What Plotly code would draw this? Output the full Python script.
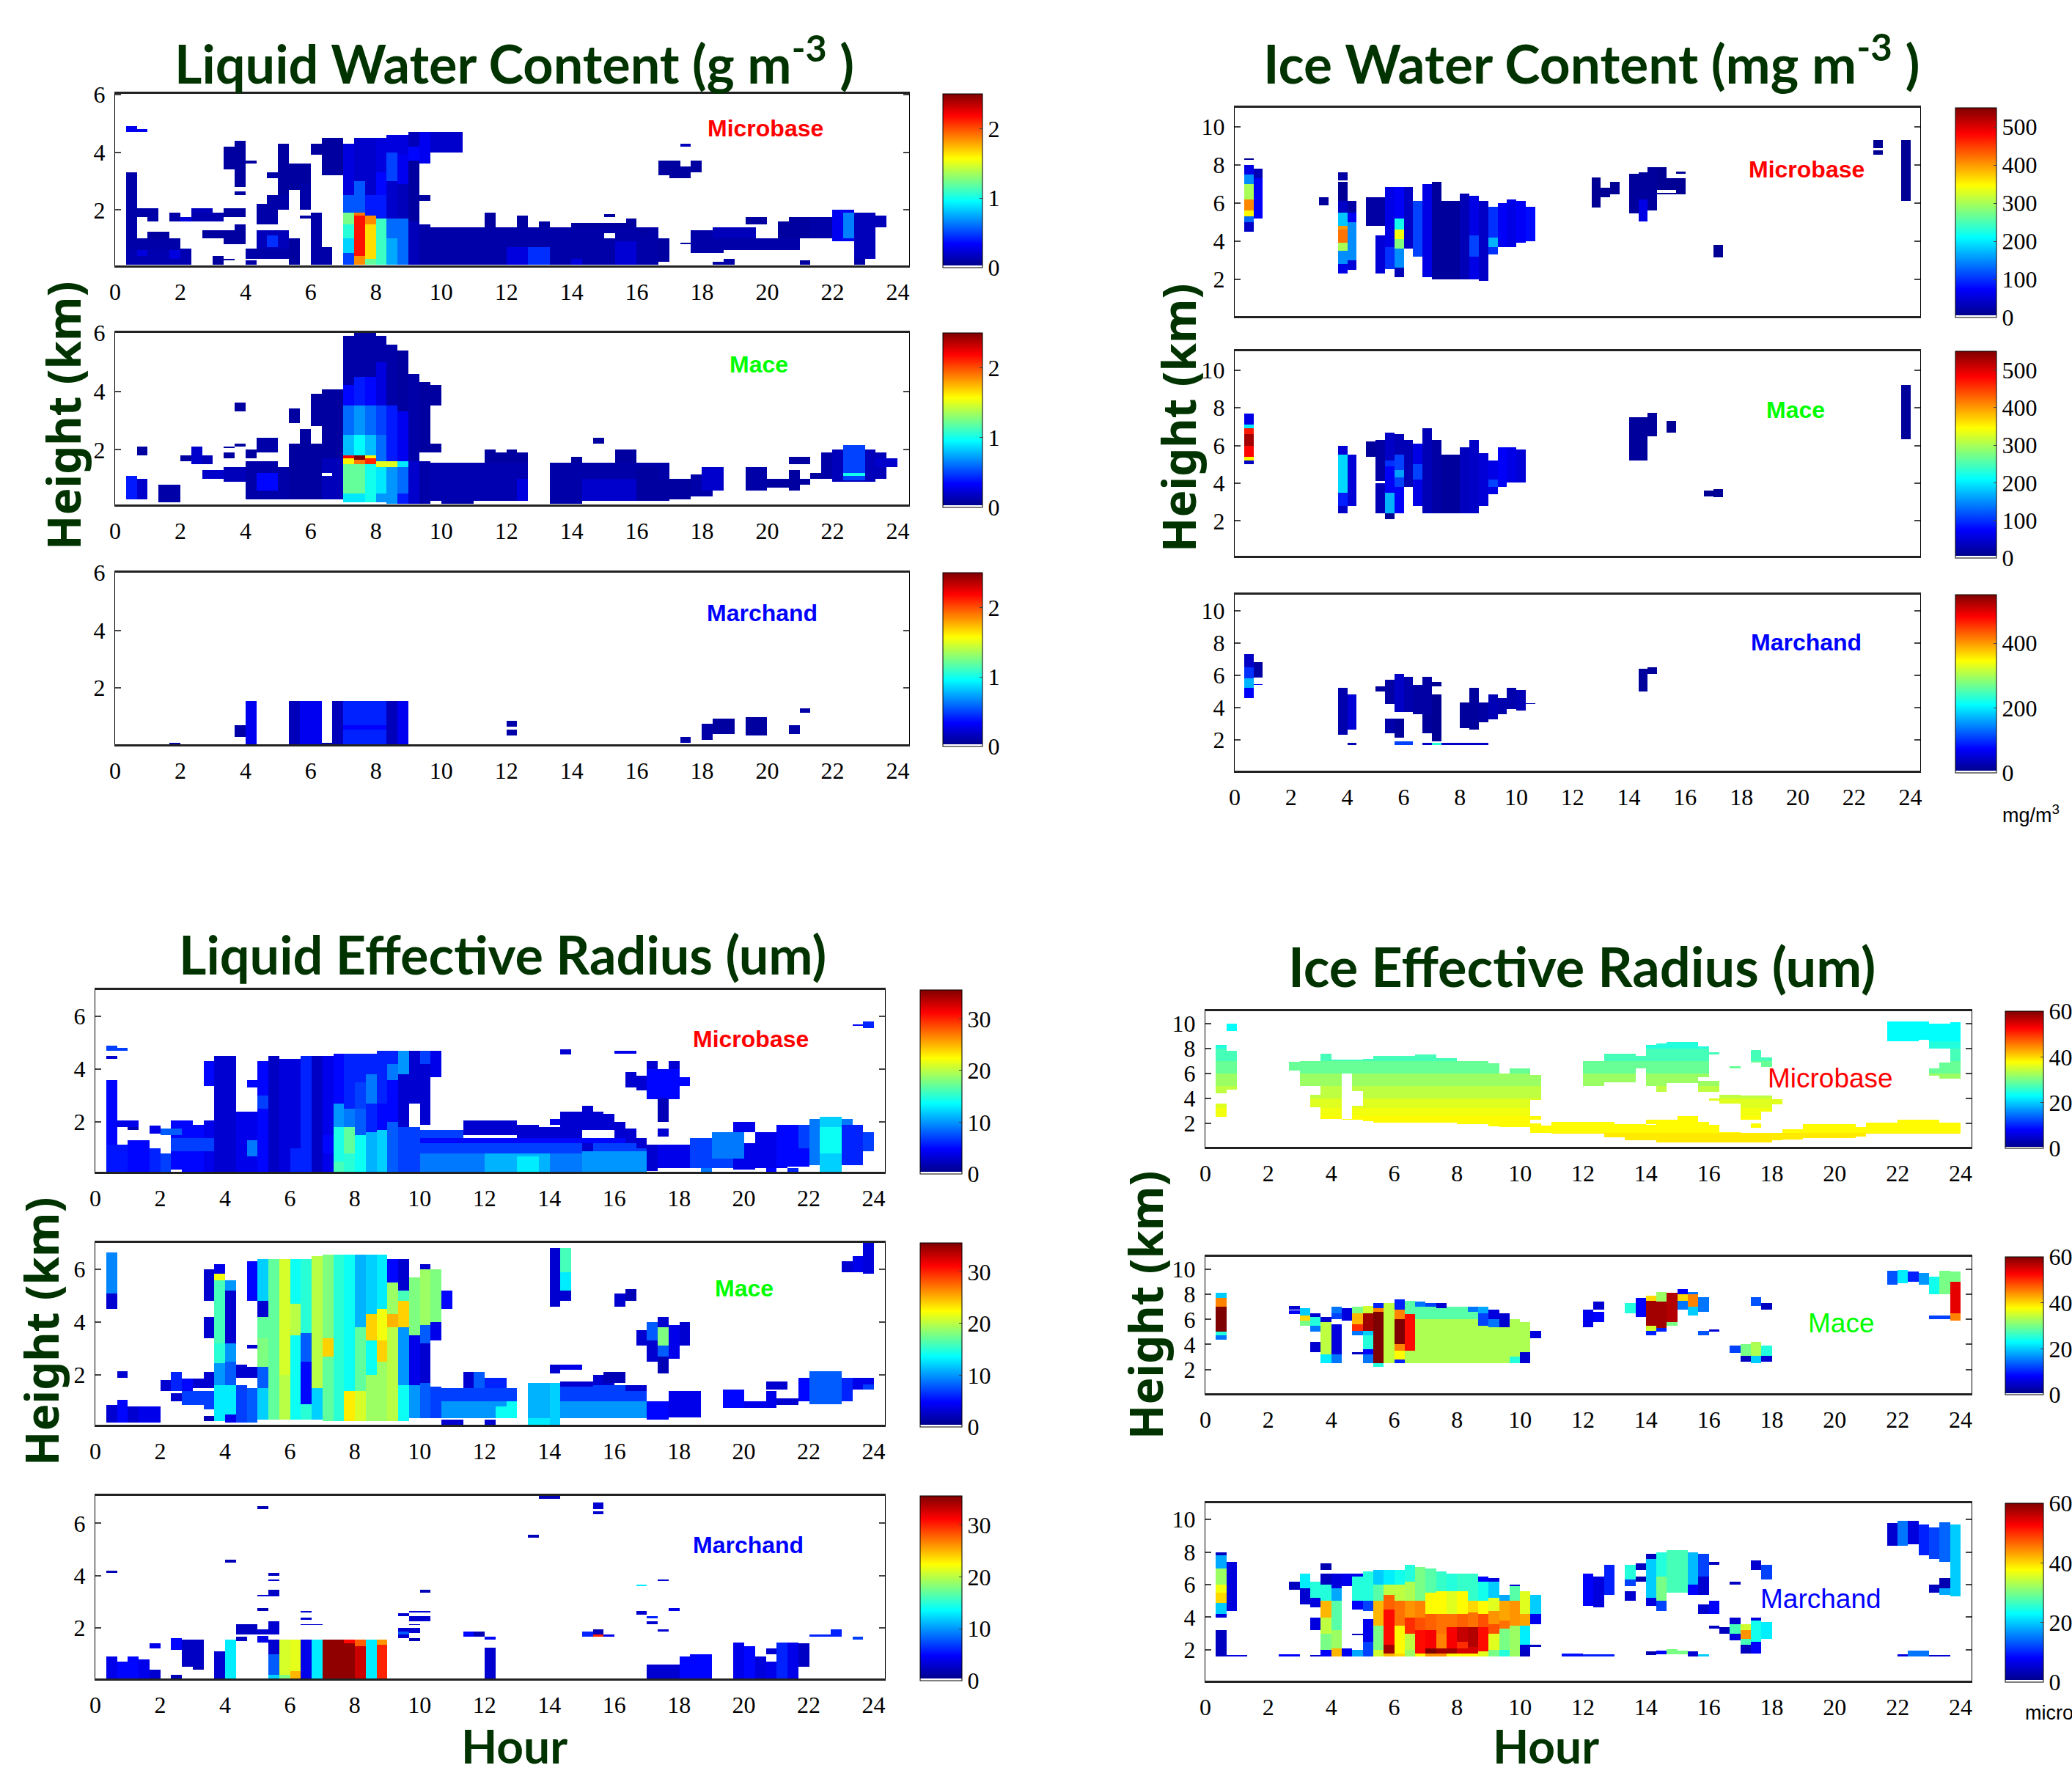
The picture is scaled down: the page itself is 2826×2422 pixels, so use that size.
import numpy as np
import plotly.graph_objects as go

W, H = 2826, 2422
# patch format: (hour_start, hour_end, km0, value, km1, value, km2, ...)  None clears a cell
lwc_microbase = [
 (.33,.67,.08,.1,3.3),(.33,.67,4.7,.3,4.9),(.67,1,4.7,.3,4.8),(.67,1.33,1.75,.1,2.05),(1,1.33,1.6,.1,1.75),
 (.33,2.33,.08,.12,.65),(.33,2,.65,.1,1),(1,1.67,1,.08,1.25),(.67,1,.4,.25,.6),(1.67,2,.3,.25,.6),
 (1.67,2,1.6,.1,1.9),(2,2.33,1.6,.25,1.75),(2.33,3.33,1.6,.12,1.9),(2.33,3,1.9,.15,2.05),(3.33,4,1.75,.08,2.05),
 (2.67,4,1,.08,1.3),(3.33,4,.8,.08,1),(3.67,4,1.3,.08,1.5),(3,3.33,.1,.08,.4),(3.33,3.67,.25,.08,.3),(4,4.33,.1,.1,.25),
 (4,5.33,.3,.1,.65),(4.33,5.33,.65,.15,1.3),(4.67,5,.7,.45,1.1),(3.33,3.67,3.4,.08,4.2),(3.67,4,2.8,.08,4.4),(4,4.33,3.6,.08,3.7),(3.67,4,2.5,.08,2.65),
 (4.33,5,1.5,.1,2.2),(4.67,5.33,2,.1,2.5),(5,5.33,2.5,.08,4.3),(4.67,5,3.1,.1,3.3),(5.33,6,2.7,.08,3.6),(5.33,5.67,.08,.08,1),(5.67,6,2,.1,2.9),
 (5.67,6,1.7,.08,1.8),(6,6.33,.08,.1,1.9),(6.33,6.67,.08,.1,.7),(6,6.33,3.9,.08,4.3),(6.33,7,3.2,.08,4.5),
 (7,7.33,.08,.5,.5,.85,1,1.05,1.5,1.25,1.9,.55,2.5,.25,4.3),
 (7.33,7.67,.08,1.85,.4,2.15,1.8,1.9,1.9,.55,3,.2,4.5),
 (7.67,8,.08,1.2,.3,1.65,1.5,1.85,1.8,.4,2.5,.2,4.5),
 (8,8.33,.08,1.1,1.7,.4,2.5,.35,3.3,.25,4.5),
 (8.33,8.67,.08,.75,1,.6,1.7,.2,3,.5,4,.25,4.6),
 (8.67,9,.08,.6,1.7,.15,2.9,.3,3.9,.25,4.6),
 (9,9.33,.08,.15,1.6,.08,3.7,.35,4.2,.15,4.7),(9.33,9.67,.08,.1,1.5),(9.33,9.67,2.3,.08,2.5),(9.33,9.67,3.6,.3,4.7),
 (9.67,10.67,4,.2,4.7),(9.67,16.67,.08,.1,1.4),(11.33,11.67,1.4,.08,1.9),(12.33,12.67,1.4,.08,1.8),(13,13.33,1.4,.08,1.6),(14,16,1.4,.08,1.55),(15.67,16,1.4,.08,1.7),
 (12,12.67,.08,.25,.7),(12.67,13.33,.08,.45,.7),(15.33,16,.08,.22,.9),(14,14.33,.08,.25,.3),(16,16.33,1.2,.08,1.3),(16.67,17,.2,.08,1),(14.9,15.2,1,None,1.2),
 (17.33,17.67,.8,.08,.85),(17.67,18.67,.5,.1,1.3),(18.67,21,.6,.1,1),(18.33,19.67,1,.15,1.4),(19.33,20,1.5,.08,1.75),(20.33,21.33,1,.08,1.6),(20.67,21.33,1.6,.08,1.75),
 (21.33,22,1,.1,1.75),(22,22.67,.9,.3,2),(22.33,23,1,.65,1.9),(22.67,23.33,.3,.15,1.9),(23,23.67,1.4,.15,1.8),(22.67,23,.08,.1,.3),(18.33,18.67,.08,.1,.2),(18.67,19,.1,.1,.3),(20.33,20.67,.08,.08,.12),(21,21.33,.08,.08,.25),
 (16.67,17.33,3.2,.08,3.7),(17,17.67,3.1,.08,3.5),(17.67,18,3.3,.08,3.7),(17.33,17.67,4.2,.15,4.3),(15,15.33,1.75,.08,1.85)]
lwc_mace = [
 (7,7.33,.2,.9,.5,1.2,1.5,1.6,1.7,2.2,1.8,.8,2.5,.6,3.5,.35,4.2,.1,5.9),
 (7.33,7.67,.2,.9,.5,1.2,1.5,1.9,1.65,2.5,1.8,.95,2.5,.7,3.5,.4,4.5,.1,6),
 (7.67,8,.2,1,1.5,2.1,1.7,1.6,1.8,.8,2.5,.6,3.5,.35,4.5,.1,6),
 (8,8.33,.2,.7,.5,.9,1.4,1.5,1.6,.6,2.5,.5,3.5,.25,5,.1,5.9),
 (8.33,8.67,.13,.7,1.4,1.5,1.6,.4,3.5,.1,5.6),
 (8.67,9,.13,.4,.5,.6,1.4,.9,1.6,.3,3.3,.08,5.4),
 (9,9.33,.13,.2,1.6,.1,4.6),(9.33,9.67,.13,.1,1.6),(9.33,9.67,2.2,.08,4.3),(9.67,10,3.5,.08,4.2),(9.33,10,1.9,.08,2.2),
 (9.67,12.67,.25,.12,1.55),(10,11,.13,.1,.25),(11.33,12.67,1.55,.08,1.9),(11.33,11.67,1.9,.08,2),(12,12.33,1.9,.08,2),(12.33,12.67,.25,.25,1),
 (13.33,17,.25,.1,1.55),(13.33,14.33,.13,.1,.25),(14,14.33,1.55,.08,1.75),(15.33,16,1.55,.08,2),(14.67,15,2.2,.08,2.4),(14.5,16,.25,.2,1),
 (16,16.67,.25,.08,1.4),(16.67,17.67,.3,.08,1),(17.67,18.33,.4,.1,1.15),(18,18.67,.6,.2,1.4),
 (19.33,20,.6,.1,1.4),(20,21,.7,.08,1),(20.67,21,.6,.08,1.3),(20.67,21.33,1.5,.08,1.75),(21,21.33,.8,.08,1),(21.33,21.67,1,.08,1.2),(21.67,22,1,.1,1.9),
 (22,23.33,.9,.15,2),(22.33,23,.95,.5,2.15),(22.33,23,1.1,1,1.2),(23,23.67,1,.15,1.9),(23.33,24,1.4,.2,1.7),
 (.33,.67,.3,.4,1.1),(.67,1,.3,.2,1),(.67,1,1.8,.08,2.1),(1.33,2,.2,.1,.8),(2,2.33,1.6,.08,1.8),(2.33,2.67,1.5,.2,2.1),(2.67,3,1.5,.15,1.8),
 (2.67,3.33,1,.2,1.3),(3.33,4,.9,.15,1.4),(3.33,3.67,2.05,.08,2.1),(3.67,4,2.1,.08,2.2),(3.33,3.67,1.7,.08,1.9),(3.67,4,3.3,.08,3.6),
 (4,5,.3,.1,1.6),(4.33,5,.6,.35,1.2),(4,4.33,1.7,.08,2),(4.33,5,1.9,.1,2.4),(5,5.33,.3,.1,1.4),(5.33,7,.3,.08,2.2),(5.33,5.67,2.9,.08,3.4),(5.67,6,2,.08,2.7),(6,6.33,2.8,.08,3.9),(6.33,7,2.2,.08,4.05),(6.33,7,.3,.15,1.7),(6.3,6.6,1.1,None,1.2)]
lwc_marchand = [
 (1.67,2,.05,.08,.1),(3.67,4,.3,.1,.7),(4,4.33,.05,.3,1.55),(5.33,5.67,.05,.15,1.55),(5.67,6.33,.05,.3,1.55),(6.33,6.67,.05,.08,.12),(6.67,7,.05,.15,1.55),(7,8.33,.05,.42,1.55),(7,8.33,.55,.34,.7),(8.33,8.67,.05,.15,1.55),(8.67,9,.05,.3,1.55),
 (12,12.33,.35,.1,.55),(12,12.33,.65,.1,.85),(17.33,17.67,.1,.1,.3),(18,18.33,.2,.1,.75),(18.33,19,.4,.08,.95),(19.33,20,.35,.08,1),(20.67,21,.4,.1,.7),(21,21.33,1.15,.1,1.3)]

iwc_microbase = [
 (.33,.67,8.25,10,8.35),(.33,.67,4.5,40,5,130,5.3,350,5.6,410,6.2,300,7,150,7.5,60,8),(.67,1,5.2,70,7.3,30,7.8),(3,3.33,5.9,15,6.3),
 (3.67,4,2.3,60,2.8,150,3.5,300,3.9,420,4.6,400,4.8,180,5.5,40,6.1,10,7.1),(3.67,4,7.2,20,7.6),(4,4.33,2.5,50,3,150,5,70,5.5,20,6.1),
 (4.67,5,4.8,20,6.3),(5,5.33,2.3,50,4.3),(5,5.33,4.8,20,6.3),(5.33,5.67,2.55,100,3.7,60,6.85),(5.67,6,2.1,30,2.6,150,3.6,280,4.1,340,4.6,220,5.2,70,6.85),
 (6,6.33,3.6,40,6.85),(6.33,6.67,3.2,110,6.1),(6.67,7,2.1,60,7),(7,7.33,2,15,7.1),(7.33,8,2,15,6.1),(8,8.33,2,30,6.5),(8.33,8.67,2,60,3.2,110,4.3,60,6.4),(8.67,9,1.9,40,6.1),
 (9,9.33,3.3,100,3.7,170,4.2,100,5.8),(9.33,9.67,3.7,70,6),(9.67,10,3.7,60,6.2),(10,10.33,3.9,70,6.1),(10.33,10.67,4,80,5.8),
 (12.67,13,5.75,10,7.35),(13,13.33,6.3,10,6.8),(13.33,13.67,6.45,10,7.1),(14,14.33,5.45,15,7.55),(14.33,14.67,5.05,60,6.2,15,7.6),(14.67,15,5.6,15,7.9),(15,15.33,6.45,10,7.9),(15.33,16,6.45,10,7.3),(15.67,16,7.55,10,7.65),(15,15.67,6.55,None,6.7),
 (17,17.33,3.15,10,3.8),(22.67,23,8.55,10,8.75),(22.67,23,8.9,10,9.3),(23.67,24,6.1,10,9.3)]
iwc_mace = [
 (.33,.67,5,40,5.2,350,5.4,480,6,530,6.6,470,6.9,200,7.1,60,7.7),(3.67,4,2.4,40,2.8,90,3.5,190,5.5,50,6),(4,4.33,2.8,50,5.5),(4.67,5,5.4,15,6.2),(5,5.33,2.4,30,4),(5,5.33,4.1,20,6.3),
 (5.33,5.67,2.1,10,2.4,170,3.5),(5.33,5.67,3.5,70,4.9,100,5.2,40,6.7),(5.67,6,2.4,70,3.8,110,4.3,160,4.7,110,5.5,30,6.6),(6,6.33,3.8,30,6.3),(6.33,6.67,2.8,60,4.2,110,5,60,6.1),
 (6.67,7,2.4,30,6.9),(7,7.33,2.4,20,6.3),(7.33,8,2.4,15,5.5),(8,8.33,2.4,35,5.9),(8.33,8.67,2.4,40,6.3),(8.67,9,2.8,50,5.6),(9,9.33,3.4,60,3.8,110,4.2,60,5.2),(9.33,9.67,3.8,70,5.9),(9.67,10,4.05,60,5.9),(10,10.33,4.05,50,5.8),
 (14,14.67,5.2,15,7.5),(14.67,15,6.5,15,7.75),(15.33,15.67,6.7,10,7.3),(16.67,17,3.3,10,3.6),(17,17.33,3.25,10,3.7),(23.67,24,6.35,15,9.2)]
iwc_marchand = [
 (.33,.67,4.6,70,5.2,170,5.8,100,6.5,40,7.3),(.67,1,5.85,20,6.8),(.67,1,5.4,70,5.45),(3.67,4,2.3,25,5.2),(4,4.33,2.6,50,4.8),
 (5,5.33,5,15,5.3),(5.33,5.67,2.4,25,3.3),(5.33,5.67,4.2,20,5.7),(5.67,6,2.1,15,3.3),(5.67,6,3.7,40,6.1),(6,6.33,3.7,25,5.9),(6.33,6.67,3.6,20,5.4),(6.67,7,2.4,15,3.6,20,5.9),(7,7.33,1.9,10,4.8),(7,7.33,5.3,10,5.6),
 (4,4.33,1.65,25,1.8),(5.67,6.33,1.65,110,1.9),(6.67,7,1.65,40,1.8),(7,7.33,1.65,230,1.8),(7.33,9,1.65,40,1.8),
 (8,8.33,2.7,15,4.3),(8.33,8.67,2.6,15,5.2),(8.67,9,3.1,20,4.3),(9,9.33,3.25,30,4.8),(9.33,9.67,3.6,25,4.6),(9.67,10,3.9,25,5.2),(10,10.33,3.8,30,5.1),(10.33,10.67,4.2,30,4.25),(14.33,14.67,5,15,6.4),(14.67,15,6.1,15,6.5)]

ler_microbase = [
 (.33,.67,.1,5,3.6),(.33,.67,4.7,7,4.9),(.67,1,4.7,7,4.8),(.33,.67,4.4,3,4.5),(.67,1.33,1.8,4,2.05),(1,1.33,1.7,2,1.8),
 (.33,1,.1,5.5,1.15),(1,1.67,.1,5,1.3),(1.67,2,.1,6,1),(2,2.33,.1,7,.8),(2.33,3,.2,5,2.05),(1.67,2,1.55,4,1.85),(2,2.67,1.5,8,1.75),(2.67,3.33,.1,5,1.8),(3,3.33,.1,5,1.9),(3.33,3.67,.1,4,2.05),(2.33,3.67,.9,7,1.4),
 (3.33,3.67,3.35,5,4.3),(3.67,4.33,.1,3,4.5),(4.33,5,.1,4,2.4),(4.67,5,.7,9,1.3),(4.67,5,3.3,5,3.6),(5,5.33,.1,5,2.5,7,3,5,4.3),(5.33,5.67,.1,2.5,4.5),(5.67,6.33,.1,3.5,4.4),(6,6.33,.1,6,1),(6.33,6.67,.1,6,4.5),(6.67,7,.1,2.5,4.5),(7,7.33,.1,4,.8,5,1.5,4,4.5),
 (7.33,7.67,.1,16,.5,14.5,1.8,10,2.7,5,4.6),(7.67,8,.1,15,.8,17,1.8,9,2.5,6,4.6),(8,8.33,.1,14,1.5,8,2.5,7,3.5,6,4.6),(8.33,8.67,.1,11,1.6,6,2.7,9,3.8,6,4.6),(8.67,9,.1,12,1.7,5,2.7,6,3.7,6,4.7),(9,9.33,.1,8,2,5,3.6,9,4.2,6,4.7),(9.33,9.67,.1,7,1.8,3,3.8,10,4.7),(9.67,10,.1,7,1.8),(9.67,10.33,2.7,3,4.7),(10,10.33,4.2,7,4.7),(10.33,10.67,3.7,4,4.7),(10,10.33,1.9,3,2.7),
 (10,11.33,.1,7,1.7),(11.33,13,1.5,3,2.05),(13,13.67,1.4,3,1.9),(13.67,15,1.4,3,1.8),(10,17,.1,9,.8,7,1.2,5,1.4),(12,14,.1,11,.8),(13,13.67,.1,13,.7),(15,17,.1,10,.9),(15,15.33,.9,3,1.2),
 (14,14.67,1.9,4,2.1),(14.33,15.67,1.7,3,2.4),(15,15.33,2.2,3,2.6),(15.67,16,1.7,3,2.3),(16,16.33,1.4,3,2),(16.33,16.67,1.2,3,1.75),(16.67,17,1,3,1.4),(14.5,14.83,4.55,3,4.75),(15.9,16.6,4.6,4,4.7),
 (17,17.33,.15,3,1.15),(17.33,18.33,.25,4,1.15),(18.33,19.67,.25,7,1.4),(19,20,.6,9,1.6),(19.67,20.33,1.6,4,2),(19.67,20.33,.2,4,.6),(20.33,21,.3,4,1.6),(20,21.33,.25,4,1.2),(18.67,19,.1,9,.25),(20.67,21,.1,5,.25),(21.33,21.67,.1,6,.25),(21,22,.3,5,1.9),(21.67,22,1,7,1.9),
 (22,23.33,.35,9,2.1),(22.33,23,.1,12,2.2),(22.5,23,.8,14,1.8),(23,23.67,.35,6,1.9),(23.67,24,.9,7,1.6),(23.33,24,5.65,5,5.72),(23.67,24,5.55,6,5.8),
 (16.33,16.67,3.3,3,3.9),(16.67,17,3.2,3,3.75),(17,18,2.85,5,4),(17,17.33,4,3,4.3),(17.67,18,4,3,4.3),(18,18.33,3.35,5,3.7),(17.33,17.67,2,2,2.9),(17.33,17.67,1.45,3,1.75)]
ler_mace = [
 (.33,.67,4.5,3,5.1,9.5,6.65),(.67,1,1.9,3,2.15),(.33,1,.2,3,.85),(.67,1,.2,5,1.05),(1,1.33,.2,3,.8),(1.33,2,.2,4,.8),(2,2.33,1.4,3,1.8),(2.33,2.67,1.4,6,2.1),(2.67,3,1.4,5,1.85),(3,3.33,1.5,3,1.85),(3.33,3.67,1.5,3,2.1),(2.33,2.67,1,3,1.3),(2.67,3.33,.85,7,1.4),(3.33,3.67,.7,7,1.4),(3.33,3.67,.25,2,.45),(3.33,3.67,3.4,3,4.2),(3.33,3.67,4.8,3,6),
 (3.67,4,.25,13,1.6,10,2.45,15,3.2,16,5.6,22,5.85,4,6.2),(4,4.33,.2,4,.5,13,1.6,8,2.5,10,3.2,3,5.2,10,5.6),(4.33,4.67,.2,7,1.6),(4.33,4.67,1.9,3,2.4),(4.67,5,.2,8,1.5),(4.67,5,1.9,3,2.3),(4.67,5,3,3,3.15),(4.67,5,4.8,5,6.3),
 (5,5.33,.3,12,1.5,8,2.3,18,3.4,17,4.2,3,4.8,12,6.4),(5.33,5.67,.3,17,6.4),(5.67,6,.3,20,2,21,6.4),(6,6.33,.3,14,3.5,20,4.7,14,6.4),(6.33,6.67,.3,15,.9,5,2.5,8,3.6,15,6.4),(6.67,7,.3,12,1.5,20,6.5),
 (7,7.33,.25,17,2.7,24,3.4,18,6.55),(7.33,7.67,.25,15,6.55),(7.67,8,.25,23,1.4,14,6.55),(8,8.33,.25,21,1.4,17,3.8,11,6.55),(8.33,8.67,.25,19,2,14,3.3,24,4.3,12,6.55),(8.67,9,.25,19,2.5,24,3.3,22,4.5,13,6.55),(9,9.33,.25,20,3.8,25,4.3,19,5.5,5,6.4),(9.33,9.67,.25,14,1.6,10,3.8,24,4.8,16,5.2,3,6.4),(9.67,10,.35,10,1.6,4,3.5,18,5.7),(10,10.33,.35,8,1.7,3,3.2,8,3.9,19,6,3,6.2),(10.33,10.67,.35,7,1.55),(10.33,10.67,3.3,4,4,18,6),(10.67,11,4.5,5,5.2),
 (10.67,13,.35,10,1,7,1.5),(10.67,11.33,.1,3,.3),(11.33,11.67,1.5,3,2.1),(11.67,12,1.5,8,2.1),(12,12.67,1.5,6,1.9),(12.33,12.67,.35,14,.8),(12.67,13,.35,14,1),(12,12.33,.1,3,.3),
 (13.33,14,.1,13,.35,11,1.7),(14,14.33,.1,12,1.7),(14.33,17,.35,10,1,7,1.6),(14,14.33,2.05,3,2.4),(14.33,15,2.2,4,2.4),(14.33,15.33,1.55,3,1.75),(15.33,16,1.6,3,2),(15.67,16.33,1.7,2,2.1),(16.33,17,1.4,3,1.6),(17,17.67,.3,5,1),(17.67,18.67,.4,4,1.4),
 (14,14.33,4.6,3,6.8),(14.33,14.67,4.8,3,5.2,13,5.9,16,6.8),(15.9,16.33,4.6,3,5.1),(16.33,16.67,4.8,2,5.25),
 (16.67,17,3.1,3,3.7),(17,17.33,2.5,3,3.3,8,4),(17.33,17.67,2.05,2,2.7,8,3.1,18,3.8,3,4.2),(17.67,18,2.6,4,3.9),(18,18.33,3.1,3,4),
 (19.33,20,.75,5,1.45),(20,21,.75,4,1),(20.67,21,.8,4,1.4),(20.67,21.33,1.45,3,1.75),(21,21.67,.85,3,1.1),(21.67,22,1,5,1.9),(22,23,.9,8,2.15),(23,23.33,1,6,1.9),(23.33,24,1.45,4,1.9),(23.67,24,1.45,7,1.65),
 (23,23.33,5.9,3,6.3),(23.33,23.67,5.9,4,6.5),(23.67,24,5.85,3.5,7)]
ler_marchand = [
 (.33,.67,4.1,2,4.2),(.33,.67,.06,4,.9),(.67,1,.06,5,.7),(1,1.33,.06,5,.9),(1.33,1.67,.06,4,.8),(1.67,2,.06,3,.4),(1.67,2,1.2,4,1.4),(2.33,2.67,.06,2,.2),(2.33,2.67,1.15,5,1.6),(2.67,3.33,.5,2.5,1.55),(3,3.33,.4,2,.5),
 (3.67,4,.06,3,1.1),(4,4.33,.06,13,1.55),(4.33,4.67,1.5,2.5,1.65),(4,4.33,4.5,2,4.6),(4.33,5,1.75,2.5,2.15),(5,5.67,1.75,3,1.95),(5.33,5.67,1.75,3,2.25),(5,5.33,1.45,4,1.7),(5,5.33,2.65,2,2.75),(5,5.67,3.2,3,3.25),(5.33,5.67,3.25,2.5,3.45),(5.33,5.67,3.8,3,3.85),(5.33,5.67,4,2.5,4.1),(5,5.33,6.55,2,6.65),
 (5.33,5.67,.06,12,.2,8,1,3,1.55),(5.67,6,.06,18,.2,21,1.55),(6,6.33,.06,25,.35,21.5,1.55),(6.33,6.67,.06,4,1.55),(6.67,7,.06,13,1.55),(6.33,7,2.1,3,2.15),(6.33,6.67,2.6,3,2.65),(6.33,6.67,2.3,3,2.4),
 (7,8.33,.06,35,1.55),(7.67,8,1.4,31,1.55),(8,8.33,.06,33,1.3,28,1.55),(8.33,8.67,.06,13,1.55),(8.67,9,.06,30,1.35,26,1.55),
 (9.33,9.67,2.45,3,2.55),(9.33,9.67,1.6,3,2),(9.33,9.67,1.75,8,1.85),(9.67,10,1.8,3,2),(9.67,10,1.5,2,1.6),(9.67,10,2.1,3,2.15),(9.67,10.33,2.6,3,2.65),(9.67,10.33,2.25,3,2.45),(10,10.33,3.35,2,3.45),
 (11.33,11.67,1.65,5,1.85),(11.67,12,1.65,2,1.85),(12,12.33,1.55,5,1.65),(12,12.33,.06,3,1.25),(13.5,13.83,5.45,2,5.55),(13.83,14.17,6.95,2,7.03),(14.17,14.5,5.45,2,5.55),(14.17,14.5,5.75,2,5.85),
 (15.33,15.67,6.35,3,6.45),(15.33,15.67,6.55,3,6.8),(15,15.33,1.65,6,1.85),(15.33,15.67,1.65,30,1.75,2,1.95),(15.67,16,1.65,4,1.75),
 (16.67,17,3.6,13,3.65),(16.67,17,2.5,3,2.65),(17,17.33,2.35,6,2.45),(17,17.33,2.15,3,2.25),(17.33,17.67,3.8,3,3.85),(17.33,17.67,1.85,3,1.95),(17.67,18,2.65,4,2.75),
 (17,18,.06,3,.6),(18,18.33,.06,5,.9),(18.33,19,.06,5,1),(19.67,20,.06,4,1.45),(20,20.33,.06,5,1.3),(20.33,20.67,.06,3.5,.9),(20.67,21,.06,4,.7),(20.67,21,1,3,1.2),(21,21.33,.06,6,1.45),(21.33,21.67,.06,4,1.45),(21.67,22,.5,2.5,1.4),(22,22.67,1.65,6,1.75),(22.67,23,1.65,6,1.95),(23.33,23.67,1.55,7,1.65)]

ier_microbase_extent = [
 (.33,.67,4.4,1,8.3),(.67,1,4.7,1,7.8),(.67,1,9.4,1,10),(.33,.67,2.5,1,3.6),(2.67,3,6.2,1,6.95),(3,3.33,5,1,7),(3.33,3.67,5,1,7),(3.33,3.67,3.3,1,4.3),(3.67,4,2.35,1,7.6),(4,4.33,2.35,1,7.1),(4.33,4.67,2.3,1,2.35),(4.33,4.67,6,1,7.1),(4.67,5,2.25,1,3.4),(4.67,5,4.55,1,7.1),(5,5.33,2.15,1,7.15),(5.33,7,2.05,1,7.4),(6.67,7.33,2.05,1,7.5),(7.33,8,2.05,1,7.2),(8,9,1.9,1,7),(9,9.33,1.75,1,6.8),(9.33,9.67,1.7,1,6),(9.67,10.33,1.7,1,6.4),(10.33,10.67,1.75,1,2),(10.33,10.67,2.25,1,2.6),(10.33,10.67,3.85,1,5.9),
 (10.33,11,1.2,1,1.8),(11,13,1.15,1,2.1),(12.67,14,.85,1,1.9),(13.33,15,.6,1,1.85),(14.33,16,.45,1,2.1),(14,15.5,1.9,1,2.3),(15,15.67,2,1,2.55),(15.67,16.33,.45,1,1.85),(16.33,17,.45,1,1.25),(17,18,.45,1,1.2),(18,18.33,.6,1,1.2),(18.33,19,.7,1,1.5),(19,20.67,.8,1,1.9),(20.67,21,.9,1,1.7),(21,24,1.15,1,2.05),(22,23.5,1.15,1,2.25),
 (12,12.67,5,1,7),(12.67,13.67,5.3,1,7.6),(13.67,14,6.4,1,7.4),(14,14.33,5,1,8.3),(14.33,14.67,4.5,1,8.4),(14.67,15.67,5.2,1,8.5),(15.33,16,5.7,1,8.2),(16,16.33,7.5,1,7.7),(15.67,16.33,4.5,1,5.4),(16.67,17,6.4,1,6.6),(17.33,17.67,6.9,1,7.9),(17.67,18,6.5,1,7.3),
 (16,16.33,3.8,1,4),(16.33,17,3.55,1,4.3),(17,18,2.9,1,4.2),(17,17.67,2.3,1,2.9),(18,18.33,3.5,1,3.9),(17.33,17.67,1.65,1,2),
 (21.67,22.67,8.6,1,10.2),(22.67,23,8.7,1,10.2),(23,23.67,8,1,10),(23.67,24,7.7,1,10.1),(23.67,24,5.6,1,7.9),(23,23.33,5.8,1,6.4),(23.33,23.67,5.6,1,6.9)]
ier_microbase_km = [0, 1.2, 2.6, 3.2, 4, 5, 6, 7, 8, 8.6, 11]
ier_microbase_um = [39, 38, 37, 36, 34, 32, 29, 27, 25, 23]
ier_mace = [
 (.33,.67,4.4,15,4.7,25,5,60,7,45,7.7,20,8.1),(2.67,3,6.4,8,6.7),(2.67,3,6.8,5,7.05),(3,3.33,5.5,30,5.9,40,6.3,20,6.9),(3.33,3.67,3.4,5,4.2),(3.33,3.67,5,15,5.5,25,6.2,5,6.5),
 (3.67,4,2.5,22,3.2,34,5.8,5,6.2),(4,4.33,2.5,15,3.2,6,5.6),(4,4.33,6,12,6.5,15,7),(4.33,4.67,5.9,6,6.9),(4.67,5,3.2,4,3.4),(4.67,5,4.7,15,5.1,50,5.6,42,6.5,30,7),
 (5,5.33,2.5,15,3.2,8,3.6,25,4.7,20,5.1,58,6.5,35,7.1),(5.33,5.67,2.2,25,2.5,60,6.6,45,6.9,10,7.3),(5.67,6,2.5,34,7.3),(6,6.33,2.5,10,2.8,38,3.5,45,4,60,6,45,6.8,10,7.6),(6.33,6.67,2.5,33,3.5,52,6.4,28,7.5),
 (6.67,8.67,2.5,33,6,28,7),(6.67,7,7,15,7.4),(7,7.33,7,12,7.3),(7.33,7.67,6.9,5,7.3),(8.33,8.67,6.6,15,7),(8.67,9,2.5,33,5.5,12,6.5,18,7),(9,9.33,2.5,33,5.4,15,6,6,6.8),(9.33,9.67,2.5,33,5.4,5,6.5),(9.67,10,2.5,25,3,33,6),(10,10.33,2.5,5,3.4,33,5.8),(10.33,10.67,4.5,6,5.1),
 (12,12.33,5.4,7,6.8),(12.33,12.67,5.8,8,6.6),(12.33,12.67,6.8,5,7.4),(13.33,13.67,6.5,25,7.3),(13.67,14,6.2,8,7.7),(14,14.33,4.7,10,5.1,35,5.5,58,7.5,40,7.9),(14.33,14.67,5,10,5.3,58,7.4,32,8.2),(14.67,15,5.5,30,5.8,57,8.1),(15,15.33,6.8,15,7.5,40,8,8,8.4),(15.33,15.67,6.3,20,7,45,8,15,8.2),(15.67,16,6.6,15,7.8),(15.67,16,4.7,13,5.1),(16,16.33,5,5,5.2),
 (16.67,17,3.3,12,3.9),(17,17.33,2.6,4,3.1,30,4),(17.33,17.67,2.5,20,3.1,33,4.2),(17.67,18,2.6,5,3.1,25,3.9),(17.33,17.67,7.1,13,7.8),(17.67,18,6.8,4,7.3),
 (21.67,22,8.8,13,9.9),(22,22.33,8.9,22,9.95),(22.33,22.67,9,10,9.85),(22.67,23,8.8,17,9.7),(23,23.33,8,24,9.4),(23.33,23.67,8,30,9.9),(23.67,24,5.9,45,6.5,54,9,30,9.8),(23,23.67,6,12,6.3)]
ier_marchand = [
 (.33,.67,1.6,4,3.2),(.33,.67,4,6,4.2,20,4.9,40,5.5,37,6,32,7,18,7.8,4,8),(.67,1,4.4,6,7.4),(.67,1.33,1.6,6,1.7),(2.33,3,1.6,8,1.75),(2.67,3,5.7,4,6.2),(3,3.33,4.8,5,5.8,22,6.7),(3.33,3.67,4.6,6,5.2,25,6.2),(3.33,4,1.6,5,1.7),(3.33,3.67,3.2,6,4),
 (3.67,4,1.6,8,2,30,3,34,4,42,5,25,6,4,6.7),(3.67,4,6.9,3,7.3),(4,4.33,1.6,42,2.1,32,3.2,28,5,18,5.8,6,6.7),(4.33,4.67,1.6,7,2.1),(4.33,5,5.9,7,6.7),(4.67,5,1.6,18,2),(4.67,5,2.9,4,3),(4.67,5,4.5,8,5,25,6.5),
 (5,5.33,1.6,12,2.5,7,3.9),(5,5.33,4.4,12,5,25,6.8),(5.33,5.67,1.6,35,2,30,3.5,42,5,28,6,20,6.9),(5.67,6,1.6,42,1.8,58,2.3,52,4.5,47,5.4,34,6,22,6.9),(6,6.33,1.6,40,1.8,38,3.5,46,5,34,6,24,6.9),(6.33,6.67,1.6,32,2,34,3,50,4,44,5,33,6.2,25,7.2),
 (6.67,7,1.6,38,1.8,52,3.2,48,4,45,5,30,7.1),(7,7.33,1.6,44,1.8,60,2.1,53,3.2,47,4.2,38,5.5,28,7),(7.33,7.67,1.6,44,1.8,58,2.1,45,3,46,4.2,38,5.6,26,6.8),(7.67,8,1.6,38,1.8,58,2.1,53,3.4,46,4.2,36,5.6,25,6.7),(8,8.33,1.6,38,1.8,55,2.1,50,2.5,56,3.4,47,4.2,38,5.6,26,6.7),(8.33,8.67,1.6,38,1.8,55,2.2,57,3.4,46,4.3,40,5,26,6.7),(8.67,9,1.6,36,1.9,52,3.4,48,4.2,38,5,24,6.2,8,6.5),(9,9.33,1.6,30,2,36,3,48,3.6,44,4.4,36,5.2,20,6.2,6,6.4),(9.33,9.67,1.6,25,2,30,3.3,46,3.8,43,5,18,5.4),(9.67,10,1.6,32,3.5,44,5,28,5.9,5,6),(10,10.33,1.6,4,1.9,5,2.3,22,3.5,43,4.2,36,5.6),(10.33,10.67,2.2,4,2.3),(10.33,10.67,3.6,7,4.2,20,5.4),
 (11.33,12,1.6,9,1.8),(12,13,1.6,10,1.75),(12,12.33,4.7,8,6.7),(12.33,12.67,4.6,6,6.5),(12.67,13,5.4,10,7.2),(13.33,13.67,5,5,5.6),(13.33,13.67,5.9,12,6.3,25,7.2),(13.67,14,6.2,3,6.5),(13.67,14,6.9,4,7.3),(14,14.33,4.7,6,5.2,20,7.6,4,7.9),(14.33,14.67,4.4,12,5,30,6.5,25,8),(14.33,14.67,1.75,8,1.95),(14,14.33,1.7,3,1.9),(14.67,15.33,5.5,27,8.1),(14.67,15,1.75,30,2.05),(15,15.33,1.75,30,1.95),(15.33,15.67,5.4,8,6,19,8),(15.33,15.67,1.6,5,1.9),(15.67,16,1.6,20,1.75),(15.67,16,5.4,5,6.5,12,7.9),(16,16.33,7.2,4,7.4),(15.67,16,4.2,5,4.8),(16,16.33,4.2,8,5),
 (16,16.33,3.3,4,3.5),(16.33,16.67,3,4,3.4),(16.67,17,2.6,6,3,27,3.6,5,4),(17,17.33,1.8,4,2.3,27,2.7,44,3.2,35,3.6),(17.33,17.67,1.8,8,2.5,24,3.8,6,4),(17.67,18,2.7,22,3.7),(16.67,17,6,4,6.2),(17.33,17.67,6.9,5,7.5),(17.67,18,6.3,12,7.2),
 (21.67,22,8.4,5,9.8),(22,22.33,8.4,15,9.9),(22.33,22.67,8.5,6,9.9),(22.67,23,7.8,10,9.7),(23,23.33,7.6,12,9.5),(23.33,23.67,7.4,14,9.85),(23.67,24,5.3,20,9.7),(23.33,23.67,5.4,18,5.8),(23,23.33,5.5,4,6),(23.33,23.67,5.8,3,6.4),(22,22.33,1.6,6,1.75),(22.33,23,1.6,15,1.95),(23,23.67,1.6,5,1.7)]

hour_ticks = list(range(0, 25, 2))
lwc_ticks = [0, 1, 2]; iwc_ticks = [0, 100, 200, 300, 400, 500]; iwc_ticks_m = [0, 200, 400]
ler_ticks = [0, 10, 20, 30]; ier_ticks = [0, 20, 40, 60]

jet = ['rgb(0,0,143)','rgb(0,0,255)','rgb(0,127,255)','rgb(0,255,255)','rgb(127,255,127)','rgb(255,255,0)','rgb(255,127,0)','rgb(255,0,0)','rgb(127,0,0)']
scale = [[0,'white'],[.012,'white']]
for i, c in enumerate(jet):
    scale.append([.012 + .988*i/(len(jet)-1), c])

def paint(patches):
    xs = (np.arange(72)+.5)/3
    ys = (np.arange(224)+.5)*.05
    g = np.full((224, 72), np.nan)
    for p in patches:
        cols = (xs >= p[0]) & (xs < p[1])
        for i in range(2, len(p)-2, 2):
            rows = (ys >= p[i]) & (ys < p[i+2])
            g[np.ix_(rows, cols)] = np.nan if p[i+1] is None else p[i+1]
    return xs, ys, g

xs, ys, micro_mask = paint(ier_microbase_extent)
ier_micro_grid = micro_mask.copy()
for k in range(len(ier_microbase_um)):
    r = (ys >= ier_microbase_km[k]) & (ys < ier_microbase_km[k+1])
    ier_micro_grid[r] = np.where(np.isnan(micro_mask[r]), np.nan, ier_microbase_um[k])

# panel: patches, x0,x1,ytop,ybottom (px), yrange, zmax, ticks, y tick list, xlabels, colorbar x0,x1,bottom px
L = [2, 4, 6]; I = [2, 4, 6, 8, 10]
panels = [
 (lwc_microbase,157,1240,128,362,[.08,6.03],2.5,lwc_ticks,L,True,1286,1340,365),
 (lwc_mace,157,1240,454,688,[.13,6],2.5,lwc_ticks,L,True,1286,1340,692),
 (lwc_marchand,157,1240,781,1015,[.04,6],2.5,lwc_ticks,L,True,1286,1340,1018),
 (iwc_microbase,1684,2619,147,431,[.07,11],550,iwc_ticks,I,False,2667,2723,433),
 (iwc_mace,1684,2619,479,758,[.15,11],550,iwc_ticks,I,False,2667,2723,761),
 (iwc_marchand,1684,2619,811,1051,[.08,11],550,iwc_ticks_m,I,True,2667,2723,1054),
 (ler_microbase,130,1207,1350,1598,[.1,7],35.6,ler_ticks,L,True,1255,1312,1601),
 (ler_mace,130,1207,1695,1943,[.1,7],35.6,ler_ticks,L,True,1255,1312,1946),
 (ler_marchand,130,1207,2040,2289,[.06,7.05],35.6,ler_ticks,L,True,1255,1312,2292),
 (None,1644,2689,1379,1564,[.1,11],60,ier_ticks,I,True,2735,2787,1566),
 (ier_mace,1644,2689,1714,1900,[.1,11],60,ier_ticks,I,True,2735,2787,1902),
 (ier_marchand,1644,2689,2050,2292,[.1,11],60,ier_ticks,I,True,2735,2787,2294),
]
tickfont = dict(family='Liberation Serif', size=32, color='black')
fig = go.Figure()
lay = {}
for n, (pat, x0, x1, yt, yb, yr, zmax, zt, yti, xl, c0, c1, cb) in enumerate(panels, 1):
    z = ier_micro_grid if pat is None else paint(pat)[2]
    s = '' if n == 1 else str(n)
    fig.add_trace(go.Heatmap(x=xs, y=ys, z=z, xaxis='x'+s, yaxis='y'+s, zmin=0, zmax=zmax, colorscale=scale, hoverinfo='skip',
        colorbar=dict(x=c0/W, xanchor='left', y=1-yt/H, yanchor='top', len=(cb-yt)/H, lenmode='fraction', thickness=c1-c0, thicknessmode='pixels',
                      xpad=0, ypad=0, outlinewidth=1, outlinecolor='black', tickvals=zt, ticks='inside', ticklen=4, tickfont=tickfont)))
    lay['xaxis'+s] = dict(domain=[x0/W, x1/W], range=[0, 24.35], anchor='y'+s, showgrid=False, zeroline=False, showline=True, mirror=True, linewidth=3, linecolor='#222',
                          ticks='', tickvals=hour_ticks if xl else [], tickfont=tickfont, ticklabelstandoff=6, tickangle=0)
    lay['yaxis'+s] = dict(domain=[1-yb/H, 1-yt/H], range=yr, anchor='x'+s, showgrid=False, zeroline=False, showline=True, mirror='ticks', linewidth=1, linecolor='black',
                          ticks='inside', ticklen=8, tickwidth=2, tickvals=yti, tickfont=tickfont, ticklabelstandoff=6)

GREEN = '#003300'
def note(txt, x, y, size, color, family, angle=0):
    return dict(text=txt, x=x/W, y=1-y/H, xref='paper', yref='paper', showarrow=False, xanchor='center', yanchor='middle',
                textangle=angle, font=dict(family=family, size=size, color=color))
T = 'Lato'
notes = [note('<b>Liquid Water Content (g m<sup>-3</sup> )</b>', 701, 81, 72, GREEN, T), note('<b>Ice Water Content (mg m<sup>-3</sup> )</b>', 2171, 81, 73, GREEN, T),
         note('<b>Liquid Effective Radius (um)</b>', 685, 1301, 72, GREEN, T), note('<b>Ice Effective Radius (um)</b>', 2157, 1317, 74, GREEN, T),
         note('<b>Height (km)</b>', 86, 567, 62, GREEN, 'Noto Sans', -90), note('<b>Height (km)</b>', 1607, 570, 62, GREEN, 'Noto Sans', -90),
         note('<b>Height (km)</b>', 56, 1816, 62, GREEN, 'Noto Sans', -90), note('<b>Height (km)</b>', 1562, 1780, 62, GREEN, 'Noto Sans', -90),
         note('<b>Hour</b>', 701, 2380, 64, GREEN, T), note('<b>Hour</b>', 2108, 2380, 64, GREEN, T),
         note('mg/m<sup>3</sup>', 2770, 1110, 27, 'black', 'Liberation Sans'), note('micro', 2795, 2336, 27, 'black', 'Liberation Sans')]
A = 'Liberation Sans'
for txt, col, pts in [('Microbase', '#FF0000', [(579,97),(1367,128),(568,786)]), ('Mace', '#00FF00', [(574,276),(1359,310),(563,975)]), ('Marchand', '#0000FF', [(577,464),(1367,486),(566,1169)])]:
    for (a, b) in pts:
        notes.append(note('<b>'+txt+'</b>', a*1.8023, b*1.8023, 32, col, A))
for txt, col, (a, b) in [('Microbase', '#FF0000', (1385,816)), ('Mace', '#00FF00', (1393,1001)), ('Marchand', '#0000FF', (1378,1210))]:
    notes.append(note(txt, a*1.8023, b*1.8023, 37, col, A))

fig.update_layout(width=W, height=H, autosize=False, margin=dict(l=0, r=0, t=0, b=0, autoexpand=False), paper_bgcolor='white', plot_bgcolor='white', annotations=notes, **lay)
fig.write_html("out.html", config={'displayModeBar': False}, post_script="document.body.style.margin='0';document.documentElement.style.overflow='hidden';")
